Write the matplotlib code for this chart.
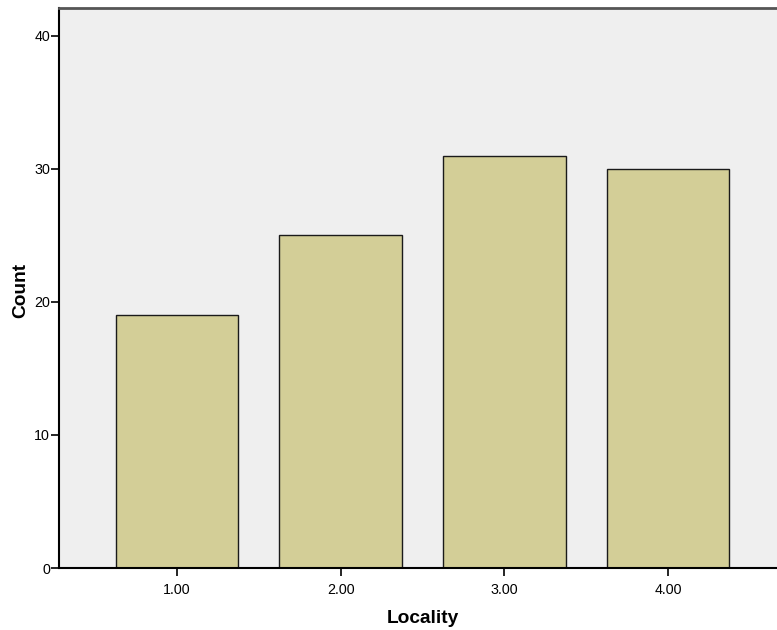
import matplotlib
matplotlib.use("Agg")
import matplotlib.pyplot as plt

# data
localities = [1.0, 2.0, 3.0, 4.0]
tick_labels = ["1.00", "2.00", "3.00", "4.00"]
counts = [19, 25, 31, 30]

plt.rcParams['font.family'] = ['Liberation Sans', 'DejaVu Sans']

fig = plt.figure(figsize=(7.77, 6.30), dpi=100)
ax = fig.add_axes([59 / 777, 62 / 630, 1 - 59 / 777, (568 - 8) / 630])
ax.set_facecolor('#efefef')

ax.bar(localities, counts, width=0.75, color='#d3ce97',
       edgecolor='#1a1a1a', linewidth=1.0, zorder=2)

ax.set_xlim(0.279, 4.666)
ax.set_ylim(0, 42.1)
ax.set_xticks(localities)
ax.set_xticklabels(tick_labels)
ax.set_yticks([0, 10, 20, 30, 40])

ax.tick_params(axis='both', direction='out', length=5.5, width=1.2,
               labelsize=10.3, colors='black')
ax.tick_params(axis='x', pad=5)
ax.tick_params(axis='y', pad=1)

ax.spines['right'].set_visible(False)
ax.spines['top'].set_color('#555555')
ax.spines['top'].set_linewidth(2)
ax.spines['left'].set_linewidth(1.5)
ax.spines['bottom'].set_linewidth(1.5)

ax.set_xlabel('Locality', fontsize=13.8, fontweight='bold')
ax.set_ylabel('Count', fontsize=13.8, fontweight='bold')
ax.xaxis.set_label_coords(0.507, -0.075)
ax.yaxis.set_label_coords(-0.042, 0.495)

fig.savefig('out.png', dpi=100)
